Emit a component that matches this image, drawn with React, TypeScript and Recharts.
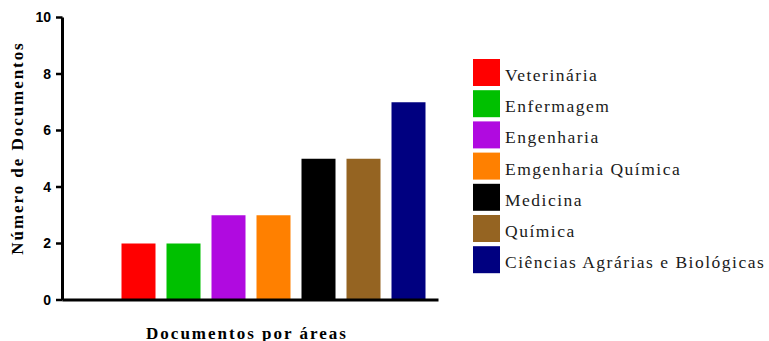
import React from "react";
import { BarChart, Bar, Cell, XAxis, YAxis, Legend, Label } from "recharts";

// ─── Data ───
const areas = [
  "Veterinária",
  "Enfermagem",
  "Engenharia",
  "Emgenharia Química",
  "Medicina",
  "Química",
  "Ciências Agrárias e Biológicas",
];
const documentos = [2, 2, 3, 3, 5, 5, 7];
const cores = ["#ff0000", "#00c000", "#b00ae0", "#ff8000", "#000000", "#956422", "#000080"];
const yTicks = [0, 2, 4, 6, 8, 10];

const chartData = areas.map((area, i) => ({ area, documentos: documentos[i] }));

const SERIF = "'Liberation Serif', 'Times New Roman', serif";
const SANS = "'Liberation Sans', Arial, sans-serif";

// ─── Legend: coloured squares with spaced serif names ───
function AreaLegend() {
  const step = 31.2;
  return (
    <svg width={296} height={230}>
      {areas.map((area, i) => (
        <g key={area} transform={`translate(0, ${i * step})`}>
          <rect x={0} y={0} width={27} height={27} fill={cores[i]} />
          <text
            x={32}
            y={22}
            fontFamily={SERIF}
            fontSize={17.5}
            letterSpacing={1.5}
            fill="#1a1a1a"
          >
            {area}
          </text>
        </g>
      ))}
    </svg>
  );
}

function YTitle() {
  const cy = 148;
  return (
    <text
      x={23}
      y={cy}
      transform={`rotate(-90, 23, ${cy})`}
      textAnchor="middle"
      fontFamily={SERIF}
      fontWeight="bold"
      fontSize={17}
      letterSpacing={1.95}
      fill="#000"
    >
      Número de Documentos
    </text>
  );
}

function XTitle() {
  return (
    <text
      x={247}
      y={338.5}
      textAnchor="middle"
      fontFamily={SERIF}
      fontWeight="bold"
      fontSize={17}
      letterSpacing={2}
      fill="#000"
    >
      Documentos por áreas
    </text>
  );
}

export default function App() {
  return (
    <div style={{ position: "fixed", left: 0, top: 0, width: 769, height: 341, background: "#fff" }}>
      <BarChart
        width={769}
        height={341}
        data={chartData}
        margin={{ top: 17.5, right: 330.5, left: 0, bottom: 11 }}
      >
        <XAxis
          dataKey="area"
          height={30}
          tick={false}
          tickLine={false}
          axisLine={{ stroke: "#000", strokeWidth: 3 }}
          padding={{ left: 53, right: 8 }}
        >
          <Label content={<XTitle />} />
        </XAxis>
        <YAxis
          width={62.5}
          domain={[0, 10]}
          ticks={yTicks}
          interval={0}
          tickSize={6.5}
          tickMargin={5}
          axisLine={{ stroke: "#000", strokeWidth: 3 }}
          tickLine={{ stroke: "#000", strokeWidth: 2.5 }}
          tick={{ fill: "#000", fontFamily: SANS, fontWeight: "bold", fontSize: 14 }}
        >
          <Label content={<YTitle />} />
        </YAxis>
        {/* centred + middle keeps the legend from eating into the plot area */}
        <Legend
          content={<AreaLegend />}
          layout="vertical"
          align="center"
          verticalAlign="middle"
          wrapperStyle={{ position: "absolute", left: 473, top: 59, width: 296, height: 230 }}
        />
        <Bar dataKey="documentos" barSize={34} isAnimationActive={false}>
          {chartData.map((d, i) => (
            <Cell key={d.area} fill={cores[i]} />
          ))}
        </Bar>
      </BarChart>
    </div>
  );
}
